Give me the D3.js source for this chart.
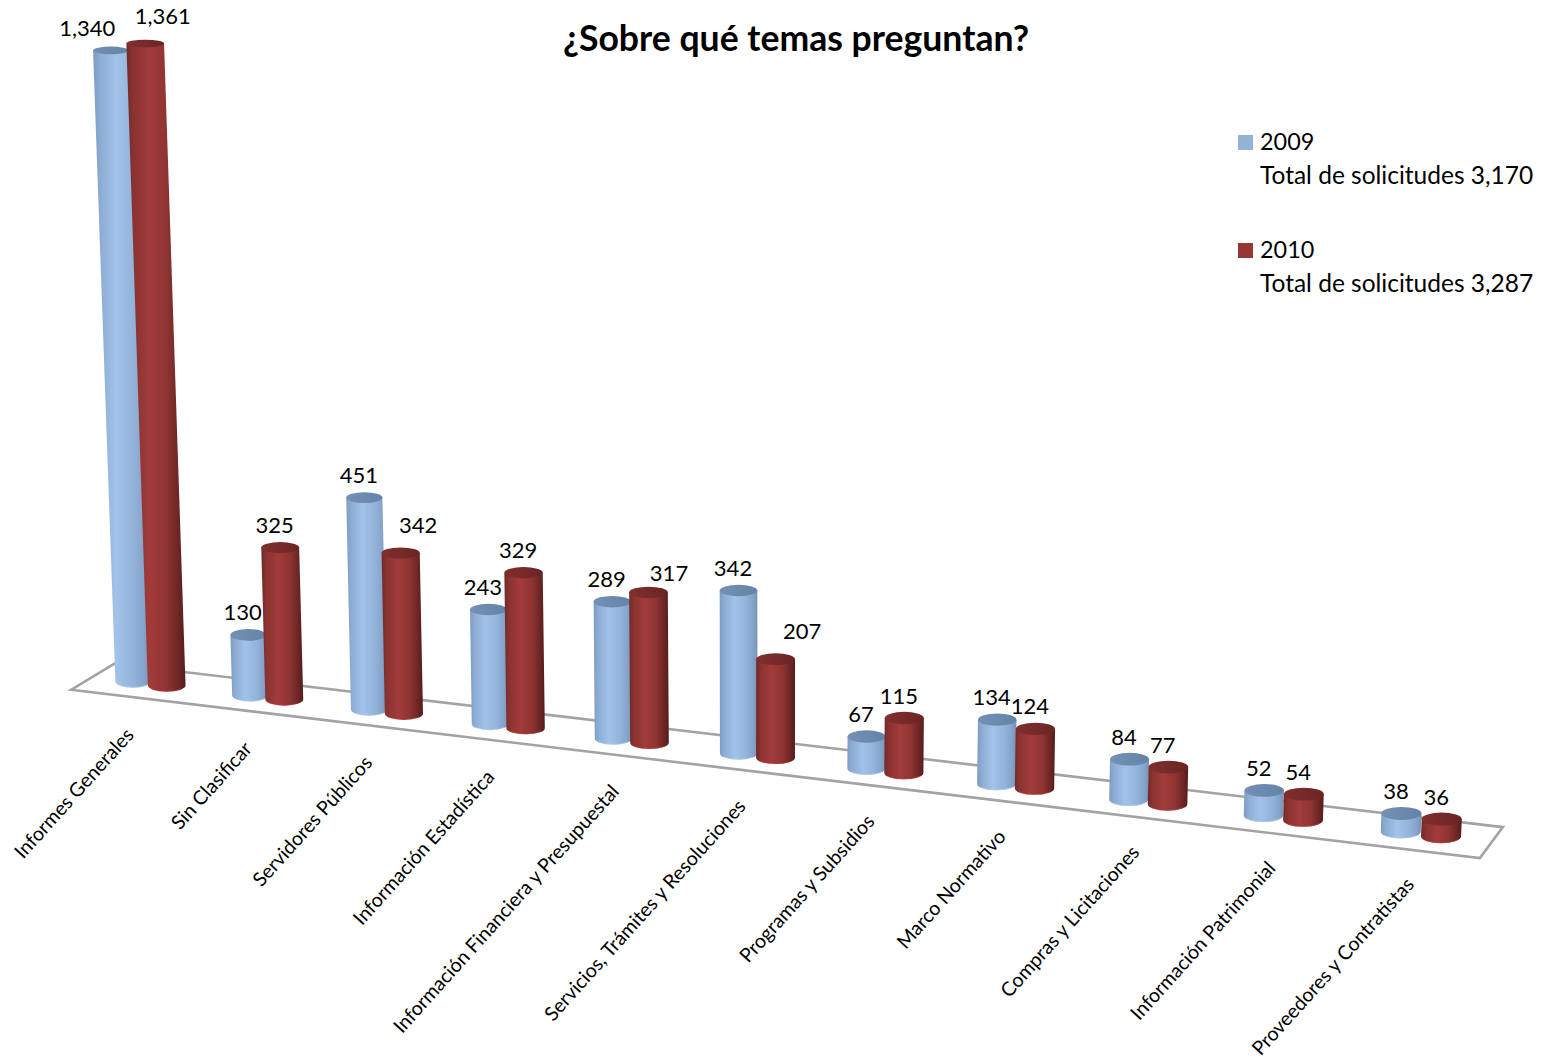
<!DOCTYPE html>
<html><head><meta charset="utf-8">
<script src="https://cdn.jsdelivr.net/npm/d3@7/dist/d3.min.js"></script>
<style>html,body{margin:0;background:#fff}svg{display:block}text{font-family:Lato,"Open Sans",sans-serif;fill:#000}</style>
</head><body><svg id="c" width="1546" height="1060"></svg>
<script>
const categories = ["Informes Generales","Sin Clasificar","Servidores Públicos","Información Estadística","Información Financiera y Presupuestal","Servicios, Trámites y Resoluciones","Programas y Subsidios","Marco Normativo","Compras y Licitaciones","Información Patrimonial","Proveedores y Contratistas"];
const seriesNames = ["2009","2010"];
const values2009 = [1340,130,451,243,289,342,67,134,84,52,38];
const values2010 = [1361,325,342,329,317,207,115,124,77,54,36];
const totals = ["Total de solicitudes 3,170","Total de solicitudes 3,287"];
const title = "¿Sobre qué temas preguntan?";

const svg = d3.select("#c"), defs = svg.append("defs");
const FONT_LABEL = 22, FONT_TICK = 19.6, FONT_LEG = 23.4, FONT_TOTAL = 24.5, FONT_TITLE = 35.6;

// --- oblique perspective floor: u = position along the category axis, d = depth (-1 front, +1 back)
const band = d3.scaleBand().domain(categories).range([-0.35,10.65]);
const sub = d3.scalePoint().domain(seriesNames).range([0.35,0.64]);
const warp = u => 116*u/(1-0.0085*u);
const xAlong = d3.scaleLinear().domain([0,1]).range([133,134]);
const yAlong = x => 681.5 + (x-132)*0.1185;
const depthX = d3.scaleLinear().domain([-0.35,10.65]).range([21.5,11.5]);
const depthY = d3.scaleLinear().domain([-0.35,10.65]).range([-13,-15.5]);
const ground = (u,d=0) => {
  const x = xAlong(warp(u));
  return [x + d*depthX(u), yAlong(x) + d*depthY(u)];
};
// height grows slightly faster than the value (vertical perspective)
const heightOf = v => 0.4625*v/(1-0.0000135*v);
const persp = d3.scaleLinear().domain([0,10]).range([1,1.05]);
const lean = x => (765-x)*0.000056;
const rxScale = {"2009":d3.scaleLinear().domain([0,10]).range([17.6,20]),
                 "2010":d3.scaleLinear().domain([0,10]).range([18.8,20])};
const ryScale = d3.scaleLinear().domain([40,840]).range([3.8,6.6]);

// gradients
const gradDef = (id,stops)=>{const g=defs.append("linearGradient").attr("id",id);
  stops.forEach(([o,c])=>g.append("stop").attr("offset",o).attr("stop-color",c));};
gradDef("body2009",[[0,"#7f9cc0"],[.12,"#8dacd3"],[.4,"#a3c2ea"],[.7,"#94b3da"],[.9,"#84a2c8"],[1,"#7390b4"]]);
gradDef("body2010",[[0,"#702a29"],[.12,"#8a3331"],[.4,"#a23b39"],[.68,"#8f3432"],[.88,"#6c2625"],[1,"#541c1c"]]);
gradDef("top2009",[[0,"#7491b5"],[.5,"#6c8aad"],[1,"#6483a7"]]);
gradDef("top2010",[[0,"#7f2f2e"],[.5,"#762a29"],[1,"#6a2423"]]);
const rimColor = d3.scaleOrdinal().domain(seriesNames).range(["#bcd6f5","#c04846"]);

// floor
const corner = [ground(band.range()[0],-1),ground(band.range()[1],-1),ground(band.range()[1],1),ground(band.range()[0],1)];
svg.append("path").attr("d",d3.line()(corner)+"Z").attr("fill","none").attr("stroke","#a3a3a3").attr("stroke-width",2.6).attr("stroke-linejoin","miter");

// data records
const data = categories.flatMap((c,i)=>seriesNames.map((s,j)=>{
  const v = (j===0?values2009:values2010)[i];
  const u = band(c)+sub(s);
  const [bx,by] = ground(u);
  const h = heightOf(v)*persp(u);
  const tx = bx - lean(bx)*h, ty = by - h;
  return {c,s,v,u,bx,by,tx,ty,rx:rxScale[s](u),ryB:ryScale(by),ryT:ryScale(ty)};
}));

const cyl = svg.append("g").selectAll("g").data(data).join("g");
cyl.append("path").attr("fill",d=>`url(#body${d.s})`).attr("d",d=>
  `M${d.tx-d.rx},${d.ty}L${d.bx-d.rx},${d.by}A${d.rx},${d.ryB} 0 0 0 ${d.bx+d.rx},${d.by}L${d.tx+d.rx},${d.ty}Z`);
cyl.append("path").attr("fill","none").attr("stroke",d=>rimColor(d.s)).attr("stroke-width",1).attr("stroke-opacity",.45).attr("d",d=>
  `M${d.bx-d.rx*.8},${d.by+d.ryB*.6-.4}A${d.rx},${d.ryB} 0 0 0 ${d.bx+d.rx*.8},${d.by+d.ryB*.6-.4}`);
cyl.append("ellipse").attr("cx",d=>d.tx).attr("cy",d=>d.ty).attr("rx",d=>d.rx).attr("ry",d=>d.ryT).attr("fill",d=>`url(#top${d.s})`);

// value labels
const nudges = {"2009|Informes Generales":[-18,0],"2010|Informes Generales":[23,-5],"2010|Servidores Públicos":[23,-5],
  "2010|Información Financiera y Presupuestal":[26,3],"2010|Servicios, Trámites y Resoluciones":[32,-6]};
svg.append("g").selectAll("text").data(data).join("text")
  .attr("text-anchor","middle").attr("font-size",FONT_LABEL)
  .attr("x",d=>d.tx-5.5+(nudges[d.s+"|"+d.c]||[0,0])[0])
  .attr("y",d=>d.ty-14.5+(nudges[d.s+"|"+d.c]||[0,0])[1])
  .text(d=>d3.format(",")(d.v));

// category labels
const tickDrop = d3.scaleLinear().domain([0,10]).range([39,35.5]);
svg.append("g").selectAll("text").data(categories).join("text")
  .attr("text-anchor","end").attr("font-size",FONT_TICK)
  .attr("transform",c=>{const u=band(c)+0.5,[x,y]=ground(u,-1);return `translate(${x+5.5},${y+tickDrop(u)}) rotate(-48)`;})
  .text(c=>c);

// title
svg.append("text").attr("x",796).attr("y",50.5).attr("text-anchor","middle").attr("font-size",FONT_TITLE).attr("font-weight",700).text(title);

// legend
const legendY = d3.scalePoint().domain(seriesNames).range([150,258]);
const legendColor = d3.scaleOrdinal().domain(seriesNames).range(["#95b3d7","#953735"]);
const lg = svg.append("g").selectAll("g").data(seriesNames).join("g").attr("transform",s=>`translate(1238,${legendY(s)})`);
lg.append("rect").attr("y",-15).attr("width",15).attr("height",15).attr("fill",s=>legendColor(s));
lg.append("text").attr("x",22).attr("font-size",FONT_LEG).text(s=>s);
lg.append("text").attr("x",22).attr("y",34).attr("font-size",FONT_TOTAL).text((s,i)=>totals[i]);
</script></body></html>
